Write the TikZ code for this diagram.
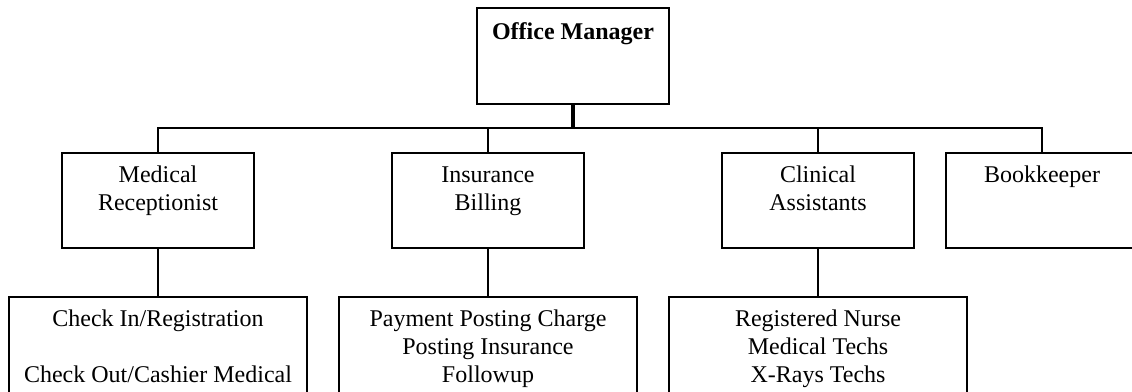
\documentclass[tikz,border=0pt]{standalone}
\usepackage{fontspec}
\setmainfont{Liberation Serif}
\begin{document}
\begin{tikzpicture}[x=1pt,y=-1pt,
  box/.style={draw=black,line width=2.3pt,inner sep=0pt,minimum width=#1,anchor=north},
  lvltwo/.style={box=192pt,minimum height=95pt},
  lvlthree/.style={box=298pt,minimum height=130pt},
  txt/.style={font=\fontsize{24}{27.8}\selectfont,align=center,inner sep=0pt,anchor=base},
  conn/.style={draw=black,line width=2.3pt},
  stem/.style={draw=black,line width=3.4pt}]
\useasboundingbox (0,0) rectangle (1132,391);
\clip (0,0) rectangle (1132,391);
% top
\node[box=192pt,minimum height=96pt] (om) at (573,7) {};
\node[txt,font=\fontsize{24}{27.8}\selectfont\bfseries] (omt) at (573,39) {Office Manager};
% level 2
\node[lvltwo] (mr) at (158,152) {};
\node[lvltwo] (ib) at (488,152) {};
\node[lvltwo] (ca) at (818,152) {};
\node[lvltwo] (bk) at (1042,152) {};
\node[txt] (mrt) at (158,210) {Medical\\Receptionist};
\node[txt] (ibt) at (488,210) {Insurance\\Billing};
\node[txt] (cat) at (818,210) {Clinical\\Assistants};
\node[txt] (bkt) at (1042,182) {Bookkeeper};
% level 3
\node[lvlthree] (ta) at (158,296) {};
\node[lvlthree] (tb) at (488,296) {};
\node[lvlthree] (tc) at (818,296) {};
\node[txt] (tat) at (158,382) {Check In/Registration\\[27.8pt]Check Out/Cashier Medical};
\node[txt] (tbt) at (488,382) {Payment Posting Charge\\Posting Insurance\\Followup};
\node[txt] (tct) at (818,382) {Registered Nurse\\Medical Techs\\X-Rays Techs};
% connectors
\coordinate (bus) at (573,128);
\draw[stem] (om.south) -- (bus);
\draw[conn,line join=miter] (mr.north) -- (mr.north |- bus) -- (bk.north |- bus) -- (bk.north);
\draw[conn] (ib.north) -- (ib.north |- bus);
\draw[conn] (ca.north) -- (ca.north |- bus);
\draw[conn] (mr.south) -- (ta.north);
\draw[conn] (ib.south) -- (tb.north);
\draw[conn] (ca.south) -- (tc.north);
\end{tikzpicture}
\end{document}
